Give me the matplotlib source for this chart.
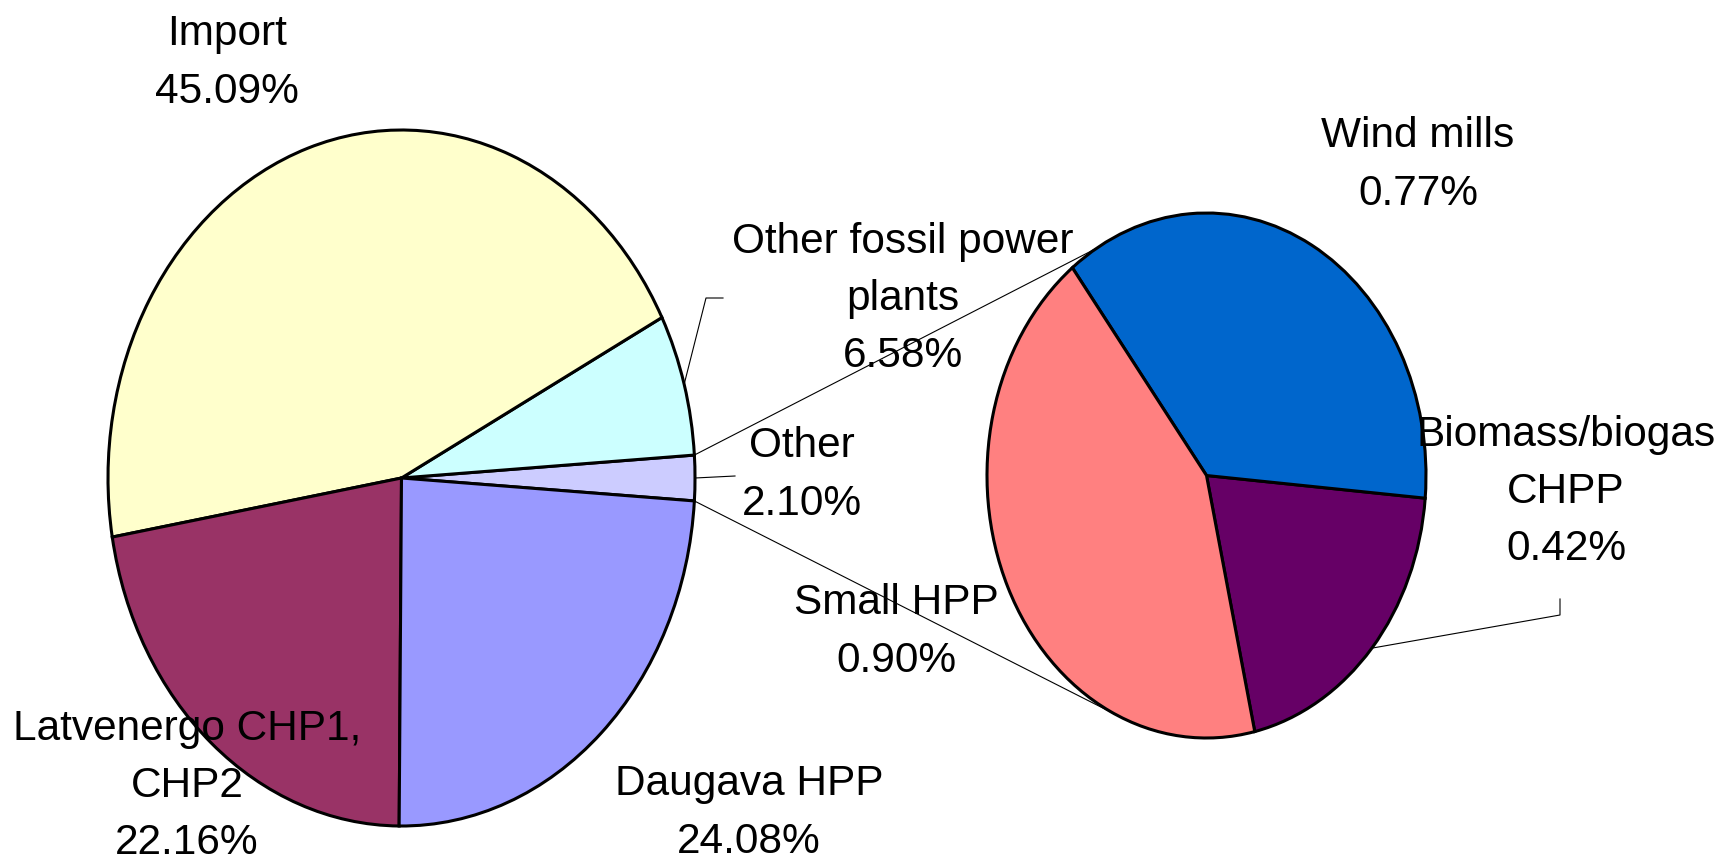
import numpy as np
import matplotlib
matplotlib.use("Agg")
import matplotlib.pyplot as plt
from matplotlib.patches import ConnectionPatch
from matplotlib import font_manager

names = {f.name for f in font_manager.fontManager.ttflist}
narrow = "Liberation Sans Narrow" in names
plt.rcParams['font.family'] = ['Liberation Sans Narrow' if narrow else 'Liberation Sans', 'DejaVu Sans']

# main pie (counter-clockwise, starting with the "Other" slice)
main_labels = ["Other", "Other fossil power\nplants", "Import", "Latvenergo CHP1,\nCHP2", "Daugava HPP"]
main_values = [2.10, 6.58, 45.09, 22.16, 24.08]
main_colors = ["#CCCCFF", "#CCFFFF", "#FFFFCC", "#993366", "#9999FF"]

# secondary pie: breakdown of "Other"
sub_labels = ["Biomass/biogas\nCHPP", "Wind mills", "Small HPP"]
sub_values = [0.42, 0.77, 0.90]
sub_colors = ["#660066", "#0066CC", "#FF8080"]

W, H = 1723, 865


def box(cx, cy, rx, ry):
    # axes rect (figure fraction) for an ellipse given in image pixels
    return [(cx - rx) / W, (H - cy - ry) / H, 2 * rx / W, 2 * ry / H]


fig = plt.figure(figsize=(W / 100, H / 100), dpi=100)

ax1 = fig.add_axes(box(401.5, 478, 293.5, 348))
ax2 = fig.add_axes(box(1206.5, 475.5, 219.5, 262.5))
ax0 = fig.add_axes([0, 0, 1, 1], zorder=5)
ax0.set_xlim(0, W)
ax0.set_ylim(H, 0)
ax0.axis("off")
ax0.patch.set_alpha(0)

wp = dict(edgecolor="black", linewidth=2.2)
start1 = -main_values[0] / sum(main_values) * 360 / 2
w1, _ = ax1.pie(main_values, colors=main_colors, startangle=start1,
                counterclock=True, wedgeprops=wp)
w2, _ = ax2.pie(sub_values, colors=sub_colors, startangle=-77.3,
                counterclock=True, wedgeprops=wp)
for ax in (ax1, ax2):
    ax.set_xlim(-1, 1)
    ax.set_ylim(-1, 1)
    ax.set_aspect("auto")
    ax.axis("off")


def edge(ax, ang):
    a = np.radians(ang)
    p = ax.transData.transform((np.cos(a), np.sin(a)))
    return ax0.transData.inverted().transform(p)


# connector lines from the "Other" slice to the secondary pie
other = w1[0]
for a1, a2 in [(other.theta2, 120.0), (other.theta1, -112.0)]:
    r1 = np.radians(a1)
    r2 = np.radians(a2)
    con = ConnectionPatch(xyA=(np.cos(r1), np.sin(r1)), coordsA=ax1.transData,
                          xyB=(np.cos(r2), np.sin(r2)), coordsB=ax2.transData,
                          color="black", linewidth=0.8)
    fig.add_artist(con)

# leader lines for the small labels
def leader(ax, wedge, pts):
    mid = (wedge.theta1 + wedge.theta2) / 2
    p0 = edge(ax, mid)
    xs = [p0[0]] + [p[0] for p in pts]
    ys = [p0[1]] + [p[1] for p in pts]
    ax0.plot(xs, ys, color="black", linewidth=0.8)

leader(ax1, w1[1], [(706, 298), (723, 298)])
leader(ax1, w1[0], [(735, 476)])
leader(ax2, w2[0], [(1560, 615), (1560, 599)])

# labels
if narrow:
    tk = dict(ha="center", va="center", fontsize=37, linespacing=1.3,
              multialignment="center")
else:
    tk = dict(ha="center", va="center", fontsize=30.5, linespacing=1.55,
              multialignment="center")
main_pos = [(802, 475), (903, 299), (227, 63), (187, 786), (749, 813)]
for lab, v, (x, y) in zip(main_labels, main_values, main_pos):
    ax0.text(x, y, f"{lab}\n{v:.2f}%", **tk)

sub_pos = [(1566, 492), (1418, 165), (896, 632)]
for lab, v, (x, y) in zip(sub_labels, sub_values, sub_pos):
    ax0.text(x, y, f"{lab}\n{v:.2f}%", **tk)

fig.savefig("out.png", dpi=100, facecolor="white")
